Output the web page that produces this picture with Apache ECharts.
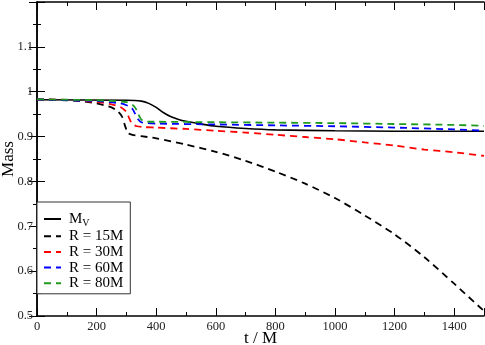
<!DOCTYPE html>
<html>
<head>
<meta charset="utf-8">
<script src="https://cdn.jsdelivr.net/npm/echarts@6/dist/echarts.min.js"></script>
<style>
  html, body { margin: 0; padding: 0; background: #fff; }
  #main { width: 485px; height: 345px; }
</style>
</head>
<body>
<div id="main"></div>
<script>
// values
var tMv  = [0, 300, 350, 375, 400, 425, 450, 475, 500, 550, 600, 700, 800, 1000, 1200, 1500];
var mMv  = [0.982, 0.981, 0.979, 0.974, 0.965, 0.953, 0.944, 0.938, 0.934, 0.928, 0.923, 0.918, 0.915, 0.913, 0.912, 0.912];

var t15 = [0, 100, 150, 200, 250, 270, 285, 295, 305, 320, 350, 400, 500, 600, 700, 800, 900, 1000, 1100, 1200, 1300, 1400, 1500];
var m15 = [0.983, 0.981, 0.979, 0.974, 0.965, 0.957, 0.945, 0.925, 0.908, 0.904, 0.901, 0.896, 0.882, 0.866, 0.846, 0.822, 0.795, 0.763, 0.724, 0.682, 0.631, 0.572, 0.511];

var t30 = [0, 100, 200, 250, 280, 300, 310, 320, 335, 360, 400, 500, 600, 700, 800, 900, 1000, 1100, 1200, 1300, 1400, 1500];
var m30 = [0.983, 0.982, 0.977, 0.972, 0.966, 0.955, 0.940, 0.928, 0.923, 0.921, 0.920, 0.917, 0.913, 0.909, 0.904, 0.899, 0.894, 0.887, 0.880, 0.871, 0.865, 0.857];

var t60 = [0, 200, 280, 310, 320, 330, 340, 350, 370, 400, 600, 800, 1000, 1200, 1400, 1500];
var m60 = [0.983, 0.979, 0.974, 0.967, 0.962, 0.950, 0.938, 0.932, 0.930, 0.929, 0.927, 0.925, 0.923, 0.920, 0.916, 0.913];

var t80 = [0, 200, 300, 320, 330, 340, 350, 360, 380, 400, 600, 800, 1000, 1200, 1400, 1500];
var m80 = [0.983, 0.981, 0.977, 0.971, 0.964, 0.950, 0.938, 0.934, 0.933, 0.933, 0.932, 0.931, 0.930, 0.928, 0.926, 0.924];

var names = ['Mv', 'R = 15M', 'R = 30M', 'R = 60M', 'R = 80M'];
var colors = ['#000000', '#000000', '#ff0000', '#0000ff', '#1e9a1e'];

function pairs(t, m) {
    return t.map(function (v, i) { return [v, m[i]]; });
}

var font = 'Liberation Serif';
var myChart = echarts.init(document.getElementById('main'));

function line(name, t, m, color, dashed) {
    return {
        name: name,
        type: 'line',
        data: pairs(t, m),
        symbol: 'none',
        smooth: 0.25,
        lineStyle: {
            color: color,
            width: dashed ? 1.8 : 1.6,
            type: dashed ? [7, 5] : 'solid'
        },
        itemStyle: { color: color }
    };
}

function plain(v) { return String(+v.toFixed(2)); }

var tickStyle = { color: '#000', width: 1 };
myChart.setOption({
    animation: false,
    grid: { left: 37, right: 1, top: 2, bottom: 29, containLabel: false, outerBoundsMode: 'none' },
    legend: {
        orient: 'vertical',
        left: 37,
        top: 202,
        padding: [8, 7, 3, 6],
        itemWidth: 17,
        itemHeight: 14,
        itemGap: 0.7,
        borderColor: '#333',
        borderWidth: 1,
        backgroundColor: '#fff',
        data: names,
        itemStyle: { opacity: 0 },
        formatter: function (n) {
            if (n == 'Mv') return '{m|M}{s|V}';
            return n;
        },
        textStyle: {
            fontFamily: font,
            fontSize: 15,
            lineHeight: 14,
            color: '#000',
            padding: [0, 0, 0, 3],
            rich: {
                m: { fontFamily: font, fontSize: 15, lineHeight: 14, color: '#000' },
                s: { fontFamily: font, fontSize: 10, lineHeight: 14, color: '#000', padding: [8, 0, 0, 0] }
            }
        }
    },
    xAxis: [
        {
            type: 'value',
            min: 0,
            max: 1500,
            interval: 200,
            name: 't / M',
            nameLocation: 'middle',
            nameGap: 14,
            nameMoveOverlap: false,
            nameTextStyle: { fontFamily: font, fontSize: 17, color: '#000' },
            axisLine: { lineStyle: { color: '#000', width: 1.5 } },
            axisTick: { inside: true, length: 8, lineStyle: tickStyle },
            minorTick: { show: true, splitNumber: 2, length: 4, lineStyle: tickStyle },
            axisLabel: { showMaxLabel: false, fontFamily: font, fontSize: 12.5, color: '#222', margin: 4, formatter: plain },
            splitLine: { show: false }
        },
        {
            type: 'value',
            position: 'top',
            min: 0,
            max: 1500,
            interval: 200,
            axisLine: { lineStyle: { color: '#000', width: 1.5 } },
            axisTick: { inside: true, length: 8, lineStyle: tickStyle },
            minorTick: { show: true, splitNumber: 2, length: 4, lineStyle: tickStyle },
            axisLabel: { show: false },
            splitLine: { show: false }
        }
    ],
    yAxis: [
        {
            type: 'value',
            min: 0.5,
            max: 1.2,
            interval: 0.1,
            name: 'Mass',
            nameLocation: 'middle',
            nameGap: 20,
            nameMoveOverlap: false,
            nameTextStyle: { fontFamily: font, fontSize: 17, color: '#000' },
            axisLine: { show: true, lineStyle: { color: '#000', width: 1.5 } },
            axisTick: { inside: true, length: 8, lineStyle: tickStyle },
            minorTick: { show: true, splitNumber: 2, length: 4, lineStyle: tickStyle },
            axisLabel: { showMaxLabel: false, fontFamily: font, fontSize: 12.5, color: '#222', margin: 4, formatter: plain },
            splitLine: { show: false }
        },
        {
            type: 'value',
            position: 'right',
            min: 0.5,
            max: 1.2,
            interval: 0.1,
            axisLine: { show: true, lineStyle: { color: '#000', width: 1.5 } },
            axisTick: { inside: true, length: 8, lineStyle: tickStyle },
            minorTick: { show: true, splitNumber: 2, length: 4, lineStyle: tickStyle },
            axisLabel: { show: false },
            splitLine: { show: false }
        }
    ],
    series: [
        line(names[0], tMv, mMv, colors[0], false),
        line(names[1], t15, m15, colors[1], true),
        line(names[2], t30, m30, colors[2], true),
        line(names[3], t60, m60, colors[3], true),
        line(names[4], t80, m80, colors[4], true)
    ]
});
</script>
</body>
</html>
